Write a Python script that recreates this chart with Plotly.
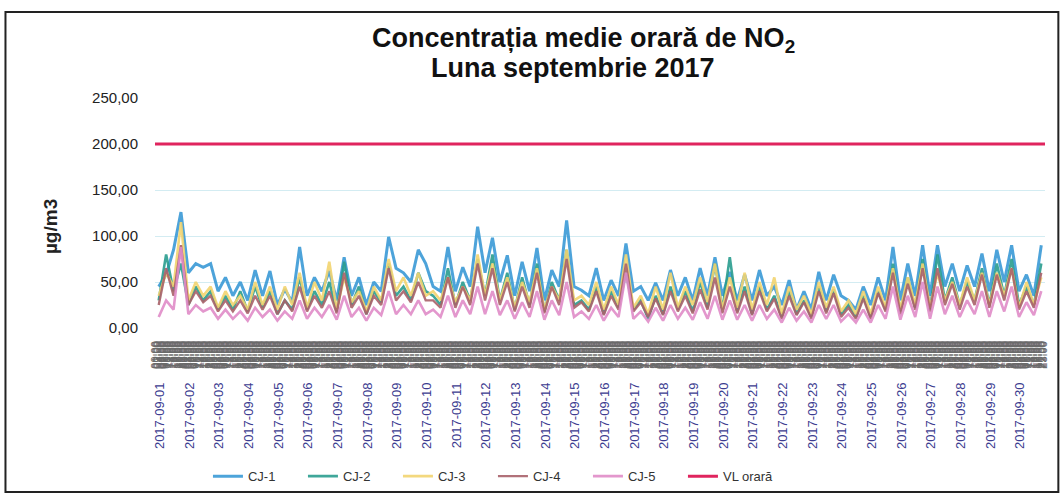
import pandas as pd
import plotly.graph_objects as go

# valori estimate din grafic, cate 4 pe zi (ora 03, 09, 15, 21)
cj1 = [45, 58, 85, 126, 60, 70, 66, 70, 40, 55, 35, 50, 30, 63, 35, 62,
       25, 42, 28, 88, 35, 55, 40, 62, 30, 77, 35, 55, 25, 50, 40, 99,
       65, 60, 50, 85, 70, 45, 40, 88, 40, 66, 45, 110, 60, 98, 50, 79,
       35, 72, 40, 87, 30, 63, 45, 117, 45, 41, 35, 65, 30, 52, 35, 92,
       40, 45, 30, 49, 30, 63, 35, 55, 30, 65, 35, 77, 35, 61, 30, 58,
       30, 63, 35, 45, 25, 52, 20, 40, 20, 61, 30, 58, 35, 30, 20, 45,
       25, 55, 30, 88, 30, 70, 35, 90, 35, 90, 45, 70, 40, 68, 45, 81,
       40, 85, 50, 90, 40, 58, 35, 90]
cj2 = [30, 80, 40, 70, 25, 45, 30, 40, 20, 35, 20, 40, 18, 45, 22, 40,
       15, 30, 20, 55, 20, 40, 25, 50, 18, 72, 25, 45, 15, 40, 28, 70,
       35, 45, 30, 60, 40, 35, 25, 65, 25, 50, 30, 75, 35, 80, 30, 60,
       20, 55, 25, 70, 18, 50, 30, 85, 25, 30, 20, 45, 15, 40, 22, 60,
       20, 30, 10, 35, 15, 45, 20, 40, 18, 50, 22, 70, 20, 77, 18, 45,
       15, 45, 20, 35, 12, 40, 15, 30, 12, 45, 18, 42, 15, 25, 12, 35,
       12, 40, 20, 70, 18, 55, 22, 75, 20, 80, 30, 55, 25, 50, 30, 65,
       25, 70, 35, 75, 25, 45, 25, 70]
cj3 = [35, 60, 45, 115, 30, 50, 35, 45, 22, 40, 25, 35, 20, 50, 25, 45,
       20, 45, 25, 60, 22, 50, 30, 72, 20, 55, 28, 40, 18, 45, 30, 75,
       40, 55, 35, 60, 35, 40, 30, 55, 28, 45, 30, 80, 35, 70, 30, 55,
       22, 50, 28, 65, 20, 45, 30, 85, 30, 35, 25, 50, 20, 45, 25, 80,
       22, 35, 15, 45, 20, 60, 22, 45, 25, 55, 28, 70, 20, 55, 22, 60,
       20, 50, 25, 55, 15, 45, 20, 35, 15, 50, 22, 45, 18, 30, 15, 40,
       15, 45, 22, 65, 20, 55, 25, 70, 22, 60, 30, 50, 25, 55, 30, 60,
       25, 60, 35, 65, 22, 50, 25, 55]
cj4 = [25, 65, 35, 90, 25, 40, 28, 35, 18, 30, 18, 30, 16, 35, 20, 35,
       15, 30, 18, 45, 18, 35, 22, 40, 16, 60, 22, 35, 15, 35, 25, 65,
       30, 40, 28, 50, 30, 30, 22, 55, 22, 45, 25, 70, 30, 65, 25, 50,
       18, 45, 22, 60, 16, 45, 25, 75, 22, 28, 18, 40, 14, 35, 20, 70,
       18, 28, 12, 32, 14, 40, 18, 35, 16, 42, 20, 55, 16, 45, 16, 40,
       14, 40, 18, 32, 10, 35, 14, 28, 10, 40, 16, 38, 12, 22, 10, 32,
       10, 38, 18, 60, 15, 48, 20, 65, 18, 65, 25, 48, 20, 45, 25, 58,
       22, 58, 30, 65, 20, 40, 22, 60]
cj5 = [12, 30, 20, 88, 15, 25, 18, 22, 10, 20, 10, 18, 8, 22, 12, 20,
       8, 18, 10, 30, 10, 22, 12, 25, 9, 35, 12, 22, 8, 22, 14, 40,
       15, 25, 15, 30, 15, 20, 12, 35, 12, 30, 15, 45, 15, 40, 14, 30,
       10, 28, 12, 40, 9, 30, 14, 50, 12, 18, 10, 25, 8, 22, 12, 60,
       10, 18, 7, 22, 8, 25, 10, 22, 9, 28, 10, 35, 9, 30, 9, 25,
       8, 25, 10, 20, 6, 22, 8, 18, 6, 25, 10, 25, 7, 15, 6, 20,
       6, 25, 10, 45, 9, 35, 12, 50, 10, 45, 15, 35, 12, 30, 15, 40,
       12, 40, 18, 45, 12, 28, 14, 40]
vl_orara = 200

ore = pd.date_range("2017-09-01 03:00", periods=len(cj1), freq="6h")
zile = pd.date_range("2017-09-01", "2017-09-30", freq="D")
zile_text = [z.strftime("%Y-%m-%d") for z in zile]
ore_ax = pd.date_range("2017-09-01 00:00", "2017-09-30 23:00", freq="h")
ore_text = [o.strftime("%H:%M") for o in ore_ax]
y_vals = [0, 50, 100, 150, 200, 250]
y_text = ["0,00", "50,00", "100,00", "150,00", "200,00", "250,00"]

serii = [
    ("CJ-1", cj1, "#3a9ad6", 3),
    ("CJ-2", cj2, "#2a9d8f", 2.6),
    ("CJ-3", cj3, "#f2d470", 2.6),
    ("CJ-4", cj4, "#a9626a", 2.4),
    ("CJ-5", cj5, "#e08cc8", 2.6),
]

fig = go.Figure()
for nume, vals, cul, w in serii:
    fig.add_trace(go.Scatter(x=ore, y=vals, name=nume, mode="lines",
                             line=dict(color=cul, width=w), opacity=0.9))
fig.add_trace(go.Scatter(x=[ore_ax[0], ore_ax[-1] + pd.Timedelta(hours=1)],
                         y=[vl_orara, vl_orara], name="VL orară", mode="lines",
                         line=dict(color="#e0245e", width=3)))
# eticheta orelor (banda suprapusa de sub axa)
fig.add_trace(go.Scatter(x=[ore_ax[0]], y=[None], xaxis="x2", showlegend=False,
                         hoverinfo="skip"))

font = "Liberation Sans, Arial, sans-serif"
x_range = [pd.Timestamp("2017-09-01"), pd.Timestamp("2017-10-01")]
fig.update_layout(
    width=1061, height=495,
    margin=dict(l=155, r=16, t=98, b=167),
    paper_bgcolor="white", plot_bgcolor="white",
    font=dict(family=font, color="#222"),
    showlegend=True,
    legend=dict(orientation="h", xref="container", yref="container",
                x=0.196, xanchor="left", y=0.038, yanchor="middle",
                font=dict(size=13, color="#333"), entrywidth=50,
                bgcolor="rgba(0,0,0,0)"),
    xaxis=dict(range=x_range, tickvals=zile + pd.Timedelta(hours=4), ticktext=zile_text,
               tickangle=-90, tickfont=dict(size=13, color="#3c3c90"), automargin=False,
               ticklabelstandoff=51, showgrid=False, showline=False, ticks=""),
    xaxis2=dict(range=x_range, overlaying="x", side="bottom", tickvals=ore_ax,
                ticktext=ore_text, tickangle=-90, tickfont=dict(size=11, color="#6a6a6a"),
                showgrid=False, ticks="", showline=False, ticklabelstandoff=10,
                automargin=False),
    yaxis=dict(range=[0, 250], tickvals=y_vals, ticktext=y_text, automargin=False,
               tickfont=dict(size=15, color="#222"), gridcolor="#d3ecf2",
               zeroline=False, showline=False, ticks="", ticklabelstandoff=16),
    annotations=[
        dict(text="<b>Concentrația medie orară de NO<sub>2</sub></b>",
             xref="paper", yref="paper", x=0.482, y=1.253, xanchor="center",
             yanchor="middle", showarrow=False, font=dict(size=27, color="#111")),
        dict(text="<b>Luna septembrie 2017</b>",
             xref="paper", yref="paper", x=0.47, y=1.13, xanchor="center",
             yanchor="middle", showarrow=False, font=dict(size=27, color="#111")),
        dict(text="<b>µg/m3</b>", xref="paper", yref="paper", x=-0.118, y=0.443,
             xanchor="center", yanchor="middle", textangle=-90, showarrow=False,
             font=dict(size=19, color="#222")),
    ],
    shapes=[dict(type="rect", xref="paper", yref="paper", x0=-0.168, x1=1.015,
                 y0=-0.713, y1=1.374, line=dict(color="#222", width=2))],
)

fig.write_html("out.html", config={"displayModeBar": False},
               post_script="document.body.style.margin='0';")
